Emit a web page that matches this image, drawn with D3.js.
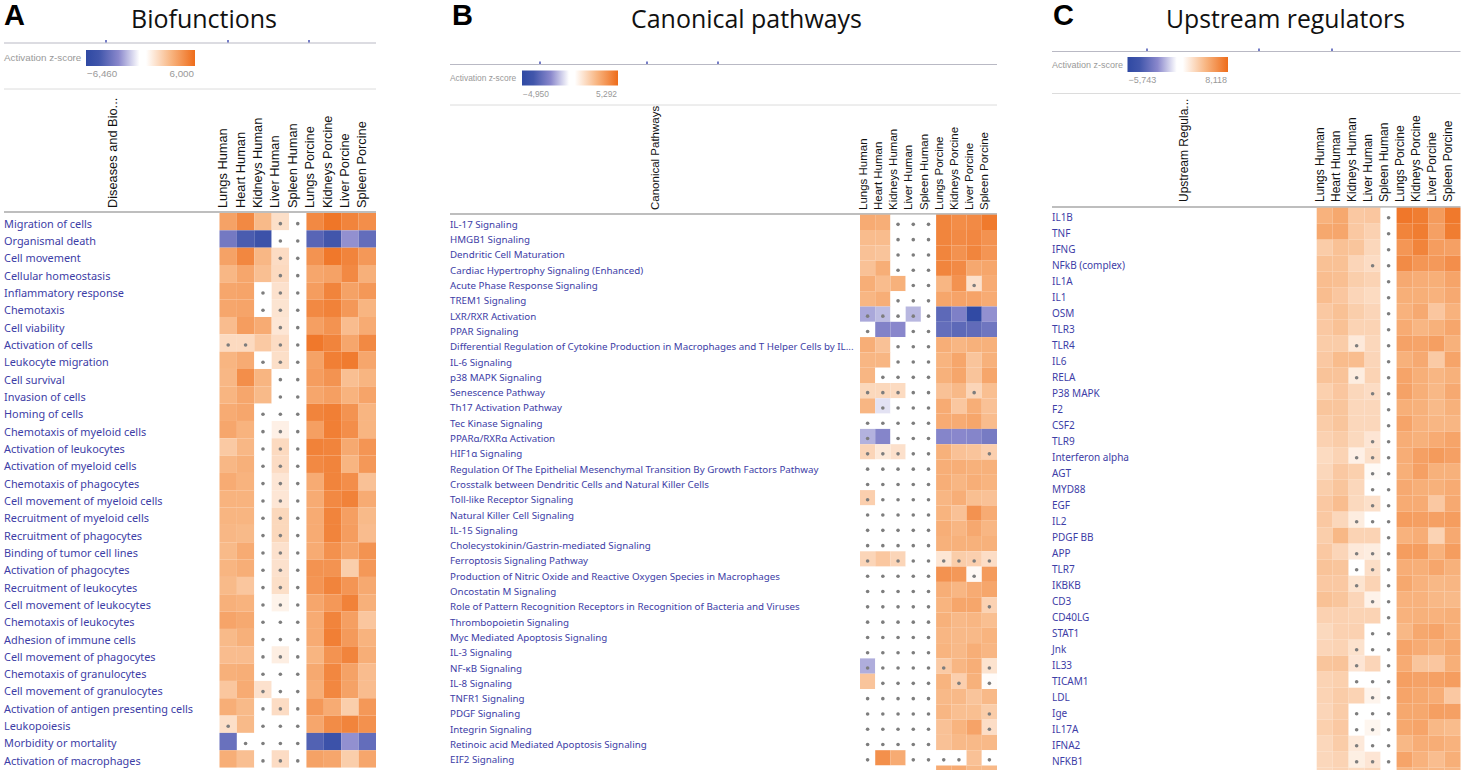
<!DOCTYPE html>
<html>
<head>
  <meta charset="utf-8">
  <title>Biofunctions, canonical pathways and upstream regulators</title>
  <script src="https://d3js.org/d3.v7.min.js"></script>
  <style>
    html, body { margin: 0; padding: 0; background: #fff; overflow: hidden; }
    svg { display: block; }
    .row-label { font-family: "Noto Sans", sans-serif; fill: #3d3da6; }
    .col-label { font-family: "Liberation Sans", sans-serif; fill: #111; }
    .legend-text { font-family: "Liberation Sans", sans-serif; fill: #999; }
    .title { font-family: "Open Sans", sans-serif; fill: #111; }
    .letter { font-family: "Liberation Sans", sans-serif; font-weight: bold; fill: #000; }
  </style>
</head>
<body>
  <svg width="1464" height="770"></svg>
  <script>
    var columns = ["Lungs Human", "Heart Human", "Kidneys Human", "Liver Human", "Spleen Human",
                   "Lungs Porcine", "Kidneys Porcine", "Liver Porcine", "Spleen Porcine"];

    var bioRows = ["Migration of cells", "Organismal death", "Cell movement", "Cellular homeostasis",
      "Inflammatory response", "Chemotaxis", "Cell viability", "Activation of cells", "Leukocyte migration",
      "Cell survival", "Invasion of cells", "Homing of cells", "Chemotaxis of myeloid cells",
      "Activation of leukocytes", "Activation of myeloid cells", "Chemotaxis of phagocytes",
      "Cell movement of myeloid cells", "Recruitment of myeloid cells", "Recruitment of phagocytes",
      "Binding of tumor cell lines", "Activation of phagocytes", "Recruitment of leukocytes",
      "Cell movement of leukocytes", "Chemotaxis of leukocytes", "Adhesion of immune cells",
      "Cell movement of phagocytes", "Chemotaxis of granulocytes", "Cell movement of granulocytes",
      "Activation of antigen presenting cells", "Leukopoiesis", "Morbidity or mortality",
      "Activation of macrophages"];

    var bioValues = [
      [3.8, 4.8, 2.8, 1.3, 0, 4.8, 5.6, 5.0, 4.6],
      [-4.0, -5.5, -6.0, 0, 0, -5.0, -5.8, -3.0, -4.6],
      [3.8, 4.9, 2.9, 1.4, 0, 4.4, 5.5, 5.0, 4.2],
      [2.9, 3.6, 2.6, 1.5, 0, 3.6, 3.8, 4.8, 3.2],
      [3.6, 3.7, 0, 1.2, 0, 4.0, 5.0, 3.8, 4.2],
      [3.6, 3.7, 0, 1.1, 0, 4.8, 5.1, 4.2, 3.0],
      [2.7, 4.0, 3.4, 1.0, 0, 3.9, 4.4, 2.7, 3.4],
      [1.5, 1.5, 2.2, 1.4, 0, 5.5, 5.0, 3.6, 4.8],
      [3.0, 3.4, 0, 1.3, 0, 3.8, 5.2, 5.4, 3.6],
      [2.9, 4.6, 3.0, 0, 0, 4.0, 4.4, 2.6, 3.0],
      [3.0, 3.6, 2.8, 0, 0, 3.6, 3.9, 3.1, 3.7],
      [3.4, 3.6, 0, 0, 0, 5.0, 5.2, 4.4, 3.0],
      [3.6, 3.1, 0, 0.6, 0, 3.9, 5.2, 4.6, 3.0],
      [2.2, 2.9, 0, 1.5, 0, 5.1, 5.0, 3.5, 4.3],
      [2.9, 3.2, 0, 1.4, 0, 4.8, 5.0, 3.0, 4.2],
      [3.4, 3.1, 0, 1.0, 0, 3.4, 5.0, 4.6, 2.5],
      [3.1, 3.1, 0, 1.0, 0, 3.4, 4.8, 5.1, 3.4],
      [3.0, 3.0, 0, 1.6, 0, 3.4, 5.0, 3.9, 2.8],
      [2.9, 2.8, 0, 1.6, 0, 3.4, 5.0, 4.0, 2.7],
      [2.8, 3.4, 0, 1.2, 0, 3.4, 4.5, 3.7, 4.4],
      [3.0, 3.3, 0, 1.2, 0, 4.4, 4.4, 2.0, 4.2],
      [2.8, 2.3, 0, 1.3, 0, 4.3, 5.0, 4.3, 3.5],
      [3.2, 3.1, 0, 0.5, 0, 3.6, 4.2, 5.1, 3.2],
      [3.7, 3.5, 0, 0, 0, 3.4, 5.0, 3.9, 2.3],
      [2.8, 3.2, 0, 0, 0, 3.4, 5.2, 4.1, 3.1],
      [2.7, 2.7, 0, 0.7, 0, 3.0, 4.4, 5.0, 3.3],
      [3.2, 3.3, 0, 0, 0, 3.5, 4.9, 3.8, 2.7],
      [2.3, 3.4, 1.2, 0, 0, 3.3, 4.9, 3.8, 2.7],
      [3.3, 2.8, 0, 1.4, 0, 4.2, 3.4, 2.0, 4.2],
      [1.3, 2.8, 0, 0, 0, 3.6, 4.7, 5.0, 4.5],
      [-4.4, 0, 0, 0, 0, -5.2, -6.0, -3.0, -4.6],
      [3.3, 2.6, 0, 1.4, 0, 3.8, 3.6, 2.0, 3.6]
    ];

    // last row is cut off by the bottom of the picture, it has no visible label
    var pathwayRows = ["IL-17 Signaling", "HMGB1 Signaling", "Dendritic Cell Maturation",
      "Cardiac Hypertrophy Signaling (Enhanced)", "Acute Phase Response Signaling", "TREM1 Signaling",
      "LXR/RXR Activation", "PPAR Signaling",
      "Differential Regulation of Cytokine Production in Macrophages and T Helper Cells by IL...",
      "IL-6 Signaling", "p38 MAPK Signaling", "Senescence Pathway", "Th17 Activation Pathway",
      "Tec Kinase Signaling", "PPARα/RXRα Activation", "HIF1α Signaling",
      "Regulation Of The Epithelial Mesenchymal Transition By Growth Factors Pathway",
      "Crosstalk between Dendritic Cells and Natural Killer Cells", "Toll-like Receptor Signaling",
      "Natural Killer Cell Signaling", "IL-15 Signaling", "Cholecystokinin/Gastrin-mediated Signaling",
      "Ferroptosis Signaling Pathway", "Production of Nitric Oxide and Reactive Oxygen Species in Macrophages",
      "Oncostatin M Signaling", "Role of Pattern Recognition Receptors in Recognition of Bacteria and Viruses",
      "Thrombopoietin Signaling", "Myc Mediated Apoptosis Signaling", "IL-3 Signaling", "NF-κB Signaling",
      "IL-8 Signaling", "TNFR1 Signaling", "PDGF Signaling", "Integrin Signaling",
      "Retinoic acid Mediated Apoptosis Signaling", "EIF2 Signaling", ""];

    var pathwayValues = [
      [3.0, 2.9, 0, 0, 0, 4.4, 4.1, 4.2, 4.8],
      [2.4, 2.4, 0, 0, 0, 4.4, 4.2, 4.3, 3.9],
      [2.2, 2.1, 0, 0, 0, 4.4, 3.9, 4.4, 3.8],
      [2.2, 2.9, 0, 0, 0, 4.4, 4.2, 3.1, 3.2],
      [2.9, 2.4, 2.8, 0, 0, 2.6, 3.9, 1.1, 3.0],
      [2.6, 2.9, 0, 0, 0, 3.2, 3.3, 3.3, 3.0],
      [-1.8, -1.4, 0, -1.5, 0, -3.7, -2.8, -4.9, -2.3],
      [0, -2.7, -2.5, 0, 0, -3.5, -3.7, -3.6, -3.2],
      [2.9, 2.2, 0, 0, 0, 2.9, 2.6, 2.8, 2.8],
      [2.6, 2.6, 0, 0, 0, 2.7, 3.2, 2.1, 2.8],
      [2.6, 0, 0, 0, 0, 2.8, 3.2, 2.1, 3.2],
      [1.4, 1.4, 1.3, 0, 0, 2.2, 2.5, 1.5, 2.3],
      [2.6, -0.6, 0, 0, 0, 3.0, 2.0, 2.9, 2.2],
      [0, 0, 0, 0, 0, 3.0, 3.0, 3.2, 2.4],
      [-1.6, -2.6, 0, 0, 0, -2.6, -2.5, -2.6, -3.0],
      [1.5, 0.8, 1.1, 0, 0, 2.8, 2.2, 2.1, 1.7],
      [0, 0, 0, 0, 0, 2.9, 2.9, 2.8, 2.8],
      [0, 0, 0, 0, 0, 2.9, 2.6, 2.9, 2.7],
      [1.7, 0, 0, 0, 0, 2.6, 2.9, 2.3, 2.2],
      [0, 0, 0, 0, 0, 2.7, 2.2, 3.9, 3.0],
      [0, 0, 0, 0, 0, 2.9, 2.6, 3.1, 2.6],
      [0, 0, 0, 0, 0, 2.8, 2.8, 2.8, 2.8],
      [1.5, 2.0, 1.5, 0, 0, 0.9, 1.8, 1.7, 1.2],
      [0, 0, 0, 0, 0, 3.9, 3.7, 0.2, 3.6],
      [0, 0, 0, 0, 0, 2.9, 2.6, 3.0, 3.2],
      [0, 0, 0, 0, 0, 2.7, 3.2, 3.2, 1.6],
      [0, 0, 0, 0, 0, 2.8, 2.5, 2.6, 2.3],
      [0, 0, 0, 0, 0, 2.6, 2.5, 2.5, 2.7],
      [0, 0, 0, 0, 0, 2.7, 2.5, 2.9, 2.6],
      [-1.7, 0, 0, 0, 0, 1.9, 2.6, 2.9, 1.0],
      [2.1, 0, 0, 0, 0, 2.7, 1.7, 2.8, 0.1],
      [0, 0, 0, 0, 0, 2.5, 2.5, 2.1, 2.5],
      [0, 0, 0, 0, 0, 2.6, 2.3, 2.3, 1.8],
      [0, 0, 0, 0, 0, 2.2, 2.7, 3.3, 1.2],
      [0, 0, 0, 0, 0, 2.2, 2.5, 2.5, 2.5],
      [0, 4.0, 3.0, 0, 0, 0, 0, 2.2, 0],
      [0, 0, 0, 0, 0, 3.0, 3.0, 2.5, 2.5]
    ];

    var regulatorRows = ["IL1B", "TNF", "IFNG", "NFkB (complex)", "IL1A", "IL1", "OSM", "TLR3", "TLR4", "IL6",
      "RELA", "P38 MAPK", "F2", "CSF2", "TLR9", "Interferon alpha", "AGT", "MYD88", "EGF", "IL2", "PDGF BB",
      "APP", "TLR7", "IKBKB", "CD3", "CD40LG", "STAT1", "Jnk", "IL33", "TICAM1", "LDL", "Ige", "IL17A",
      "IFNA2", "NFKB1", ""];

    var regulatorValues = [
      [4.2, 4.8, 3.0, 3.1, 0, 7.5, 7.2, 5.5, 7.4],
      [4.8, 4.9, 3.0, 2.5, 0, 6.8, 7.2, 5.2, 7.2],
      [2.8, 3.4, 3.2, 2.2, 0, 5.8, 6.8, 5.4, 5.2],
      [3.4, 3.4, 2.3, 1.9, 0, 6.4, 5.8, 5.6, 6.2],
      [3.6, 3.5, 2.7, 2.4, 0, 4.7, 4.5, 4.4, 5.0],
      [3.6, 3.1, 2.3, 2.0, 0, 4.4, 4.4, 4.2, 4.7],
      [3.0, 3.4, 2.7, 2.3, 0, 4.2, 4.7, 3.1, 4.2],
      [3.0, 3.4, 2.4, 2.4, 0, 4.6, 4.0, 4.3, 4.9],
      [2.8, 2.8, 1.2, 2.2, 0, 5.1, 5.0, 5.3, 4.3],
      [3.0, 3.7, 3.6, 2.3, 0, 4.3, 4.7, 2.9, 5.0],
      [3.3, 3.3, 1.0, 2.4, 0, 5.0, 4.4, 4.0, 4.3],
      [2.6, 3.1, 2.2, 1.9, 0, 5.1, 4.4, 3.9, 4.7],
      [3.2, 3.2, 2.2, 2.2, 0, 4.4, 4.3, 3.8, 4.3],
      [2.8, 3.2, 2.2, 2.2, 0, 5.0, 4.2, 4.0, 4.0],
      [2.5, 2.8, 2.1, 1.4, 0, 4.5, 4.3, 4.6, 5.0],
      [2.0, 2.4, 0.8, 1.7, 0, 4.5, 5.2, 5.5, 5.2],
      [2.2, 3.0, 2.6, 0.3, 0, 4.4, 5.2, 4.3, 4.3],
      [2.7, 3.2, 2.2, 0, 0, 4.7, 4.4, 4.3, 4.6],
      [3.0, 3.6, 2.1, 1.7, 0, 4.6, 4.6, 3.0, 4.7],
      [3.0, 2.2, 1.0, 0, 0, 5.4, 5.3, 5.2, 5.4],
      [2.7, 3.9, 2.4, 2.4, 0, 4.2, 4.5, 2.4, 4.7],
      [3.0, 2.3, 1.2, 1.0, 0, 5.4, 5.4, 4.2, 5.4],
      [3.3, 3.2, 0, 1.8, 0, 4.5, 4.4, 4.9, 4.3],
      [3.0, 3.0, 1.5, 2.4, 0, 4.8, 4.2, 3.9, 4.0],
      [3.4, 3.2, 2.3, 0.7, 0, 4.2, 4.2, 3.9, 3.8],
      [2.5, 2.5, 2.4, 2.4, 0, 4.2, 4.3, 4.2, 4.4],
      [2.1, 2.5, 2.5, 0, 0, 3.9, 4.8, 5.0, 4.4],
      [2.3, 2.4, 1.6, 0, 0, 5.0, 4.6, 4.3, 4.8],
      [3.2, 3.3, 1.4, 2.3, 0, 4.6, 3.2, 3.1, 4.4],
      [2.4, 2.6, 0, 0, 0, 5.3, 5.1, 5.2, 5.4],
      [2.4, 2.8, 2.4, 0.6, 0, 5.0, 4.8, 4.5, 3.0],
      [2.3, 2.8, 0, 0, 0, 4.8, 4.8, 5.3, 5.2],
      [2.6, 3.0, 0, 0.5, 0, 4.8, 5.0, 3.9, 3.7],
      [2.2, 2.8, 1.2, 0, 0, 3.9, 4.5, 4.5, 4.2],
      [2.2, 2.4, 0.9, 1.4, 0, 5.0, 4.2, 3.6, 4.4],
      [2.2, 2.4, 2.0, 2.2, 0, 4.0, 4.0, 4.0, 4.0]
    ];

    // cells below this absolute z-score get the grey "not significant" dot
    var dotThreshold = 2;

    var svg = d3.select("svg");

    function drawPanel(p) {
      var g = svg.append("g");

      // Panel letter and title
      g.append("text").attr("class", "letter").attr("x", p.letterX).attr("y", 25)
        .attr("font-size", 29).text(p.letter);
      g.append("text").attr("class", "title").attr("x", p.titleX).attr("y", 28)
        .attr("font-size", 25).attr("textLength", p.titleW).attr("lengthAdjust", "spacingAndGlyphs")
        .text(p.title);

      // Rules
      var rules = [
        {y: p.ruleTop, c: "#b9b9c4", w: 1},
        {y: p.ruleMid, c: "#dcdcdc", w: 1},
        {y: p.ruleHead, c: "#a8a8a8", w: 1.5}
      ];
      g.selectAll(".rule").data(rules).enter().append("line")
        .attr("class", "rule")
        .attr("x1", p.left).attr("x2", p.gridRight)
        .attr("y1", function(d) { return d.y; }).attr("y2", function(d) { return d.y; })
        .attr("stroke", function(d) { return d.c; }).attr("stroke-width", function(d) { return d.w; });

      // Little blue marks sitting on the top rule
      g.selectAll(".mark").data(p.marks).enter().append("rect")
        .attr("class", "mark")
        .attr("x", function(d) { return d - 0.7; }).attr("y", p.ruleTop - 3)
        .attr("width", 1.4).attr("height", 2.5).attr("fill", "#3b47b0");

      // Colour scale
      var color = d3.scaleLinear()
        .domain([p.min, p.min / 2, 0, p.max / 2, p.max])
        .range(["#2f49a3", "#8a88cc", "#ffffff", "#f8b581", "#ee6c1a"]);

      // Legend
      var gradId = "grad" + p.letter;
      var stops = [
        [0, color(p.min)], [0.12, color(p.min * 0.9)], [0.3, color(p.min * 0.5)],
        [0.49, "#ffffff"], [0.55, "#ffffff"], [0.78, color(p.max * 0.5)], [1, color(p.max)]
      ];
      g.append("defs").append("linearGradient").attr("id", gradId)
        .selectAll("stop").data(stops).enter().append("stop")
        .attr("offset", function(d) { return d[0]; })
        .attr("stop-color", function(d) { return d[1]; });
      g.append("rect").attr("x", p.barX).attr("y", p.barY)
        .attr("width", p.barW).attr("height", p.barH).attr("fill", "url(#" + gradId + ")");
      g.append("text").attr("class", "legend-text").attr("x", p.left)
        .attr("y", p.barY + p.barH / 2 + 3).attr("font-size", p.legendSize).text("Activation z-score");
      g.append("text").attr("class", "legend-text").attr("x", p.barX + 1)
        .attr("y", p.barY + p.barH + 11).attr("font-size", p.legendSize).text(p.minLabel);
      g.append("text").attr("class", "legend-text").attr("x", p.barX + p.barW - 1)
        .attr("y", p.barY + p.barH + 11).attr("text-anchor", "end").attr("font-size", p.legendSize).text(p.maxLabel);

      // Scales
      var x = d3.scaleBand().domain(columns).range([p.gridLeft, p.gridRight]);
      var y = d3.scaleBand().domain(d3.range(p.rows.length))
        .range([p.rowTop, p.rowTop + p.rowStep * p.rows.length]);

      // Column headers
      g.append("text").attr("class", "col-label")
        .attr("transform", "translate(" + p.nameX + "," + p.headBottom + ") rotate(-90)")
        .attr("font-size", p.headSize).text(p.nameHead);
      g.selectAll(".col-label-c").data(columns).enter().append("text")
        .attr("class", "col-label")
        .attr("transform", function(d) {
          return "translate(" + (x(d) + x.bandwidth() / 2 - 1) + "," + p.headBottom + ") rotate(-90)";
        })
        .attr("font-size", p.headSize)
        .text(function(d) { return d; });

      // Row labels
      g.selectAll(".row-label").data(p.rows).enter().append("text")
        .attr("class", "row-label")
        .attr("x", p.left)
        .attr("y", function(d, i) { return y(i) + y.bandwidth() / 2 + 2 + p.labelSize * 0.36; })
        .attr("font-size", p.labelSize)
        .text(function(d) { return d; });

      // Cells
      var cells = [];
      p.values.forEach(function(row, i) {
        row.forEach(function(v, j) { cells.push({row: i, col: columns[j], value: v}); });
      });

      g.selectAll(".cell").data(cells).enter().append("rect")
        .attr("class", "cell")
        .attr("x", function(d) { return x(d.col); })
        .attr("y", function(d) { return y(d.row); })
        .attr("width", x.bandwidth())
        .attr("height", y.bandwidth())
        .attr("fill", function(d) { return color(d.value); });

      g.selectAll(".dot").data(cells.filter(function(d) { return Math.abs(d.value) < dotThreshold; }))
        .enter().append("circle")
        .attr("class", "dot")
        .attr("cx", function(d) { return x(d.col) + x.bandwidth() / 2; })
        .attr("cy", function(d) { return y(d.row) + y.bandwidth() / 2 + 2; })
        .attr("r", 1.8)
        .attr("fill", "#7d7d7d");
    }

    drawPanel({
      letter: "A", letterX: 4, title: "Biofunctions", titleX: 131, titleW: 146,
      rows: bioRows, values: bioValues, nameHead: "Diseases and Bio...", nameX: 117,
      min: -6.46, max: 6, minLabel: "−6,460", maxLabel: "6,000",
      left: 4, gridLeft: 219.5, gridRight: 376, rowTop: 213, rowStep: 17.33,
      ruleTop: 43, ruleMid: 89, ruleHead: 212, marks: [106, 228, 309],
      barX: 86, barY: 50, barW: 109, barH: 16, legendSize: 9.8,
      headBottom: 208, headSize: 12.8, labelSize: 10.9
    });

    drawPanel({
      letter: "B", letterX: 452, title: "Canonical pathways", titleX: 631, titleW: 231,
      rows: pathwayRows, values: pathwayValues, nameHead: "Canonical Pathways", nameX: 659,
      min: -4.95, max: 5.292, minLabel: "−4,950", maxLabel: "5,292",
      left: 450, gridLeft: 860, gridRight: 997, rowTop: 214.7, rowStep: 15.3,
      ruleTop: 64.5, ruleMid: 105, ruleHead: 214, marks: [540, 647, 718],
      barX: 522, barY: 70.5, barW: 96, barH: 15, legendSize: 8.4,
      headBottom: 210, headSize: 11.5, labelSize: 9.75
    });

    drawPanel({
      letter: "C", letterX: 1053, title: "Upstream regulators", titleX: 1166, titleW: 239,
      rows: regulatorRows, values: regulatorValues, nameHead: "Upstream Regula...", nameX: 1188,
      min: -5.743, max: 8.118, minLabel: "−5,743", maxLabel: "8,118",
      left: 1052, gridLeft: 1316.7, gridRight: 1460.5, rowTop: 207.7, rowStep: 16,
      ruleTop: 51.5, ruleMid: 93.5, ruleHead: 207, marks: [1147, 1259, 1332],
      barX: 1127.5, barY: 57, barW: 100.5, barH: 15, legendSize: 9,
      headBottom: 202, headSize: 12, labelSize: 10
    });
  </script>
</body>
</html>
